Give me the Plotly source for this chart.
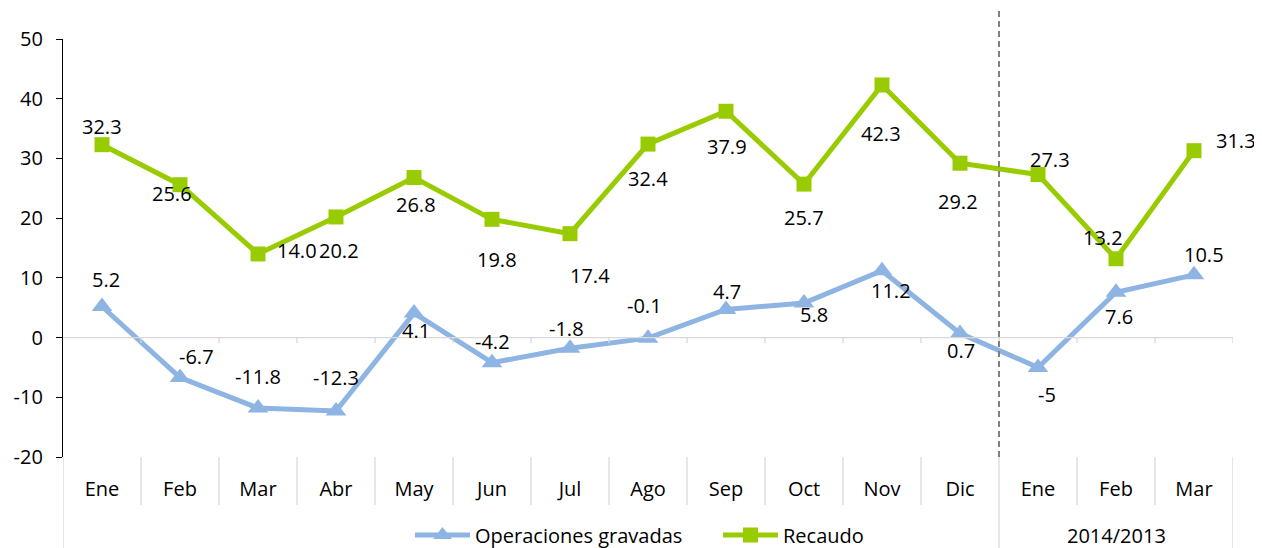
import plotly.graph_objects as go

months = ["Ene", "Feb", "Mar", "Abr", "May", "Jun", "Jul", "Ago", "Sep", "Oct", "Nov", "Dic", "Ene", "Feb", "Mar"]
group_label = "2014/2013"
group_start = 12  # index where the 2014/2013 group begins
operaciones = [5.2, -6.7, -11.8, -12.3, 4.1, -4.2, -1.8, -0.1, 4.7, 5.8, 11.2, 0.7, -5, 7.6, 10.5]
recaudo = [32.3, 25.6, 14.0, 20.2, 26.8, 19.8, 17.4, 32.4, 37.9, 25.7, 42.3, 29.2, 27.3, 13.2, 31.3]
y_ticks = [-20, -10, 0, 10, 20, 30, 40, 50]

# label offsets in pixels (x, y) for data labels
rec_off = [(0, 18), (-8, -9), (39, 3), (3, -34), (2, -27), (5, -40), (20, -42), (0, -34), (1, -35),
           (0, -33), (-1, -49), (-2, -38), (12, 15), (-13, 21), (42, 10)]
op_off = [(4, 27), (16, 21), (0, 32), (0, 34), (2, -17), (0, 21), (-4, 20), (-4, 33), (1, 18),
          (10, -12), (9, -20), (1, -17), (9, -27), (3, -24), (10, 20)]

FONT = "Open Sans"
FS = 20
BLUE = "#8EB4E3"
GREEN = "#99CC00"
xs = list(range(len(months)))
n = len(months)

# page has an 8px body margin; figure is sized to fit the 1262x548 window
W, H = 1254, 540
L, T, R, B = 55, 31, 29, 91
plot_h = H - T - B

fig = go.Figure()
fig.add_trace(go.Scatter(x=xs, y=operaciones, name="Operaciones gravadas", mode="lines+markers",
                         line=dict(color=BLUE, width=5),
                         marker=dict(symbol="triangle-up", size=18, color=BLUE)))
fig.add_trace(go.Scatter(x=xs, y=recaudo, name="Recaudo", mode="lines+markers",
                         line=dict(color=GREEN, width=5),
                         marker=dict(symbol="square", size=15, color=GREEN)))

ann = []
for i, v in enumerate(operaciones):
    ann.append(dict(x=xs[i], y=v, xref="x", yref="y", text=f"{v:g}", showarrow=False,
                    xshift=op_off[i][0], yshift=op_off[i][1],
                    font=dict(family=FONT, size=FS, color="black")))
for i, v in enumerate(recaudo):
    ann.append(dict(x=xs[i], y=v, xref="x", yref="y", text=f"{v:.1f}", showarrow=False,
                    xshift=rec_off[i][0], yshift=rec_off[i][1],
                    font=dict(family=FONT, size=FS, color="black")))

ann.append(dict(x=(group_start + n - 1) / 2, y=-78 / plot_h, xref="x", yref="paper", text=group_label,
                showarrow=False, font=dict(family=FONT, size=FS, color="black"), yanchor="middle"))

shapes = []
# zero line with small ticks
shapes.append(dict(type="line", xref="x", yref="y", x0=-0.5, x1=n - 0.5, y0=0, y1=0,
                   line=dict(color="#D9D9D9", width=1.3)))
for i in range(n):
    shapes.append(dict(type="line", xref="x", yref="y", x0=i + 0.5, x1=i + 0.5, y0=0, y1=-0.9,
                       line=dict(color="#D9D9D9", width=1.3)))
# category separators in label area
for i in range(n + 1):
    b = i - 0.5
    long = (i == 0 or i == n or i == group_start)
    shapes.append(dict(type="line", xref="x", yref="paper", x0=b, x1=b, y0=0,
                       y1=-(B + 2) / plot_h if long else -48 / plot_h,
                       line=dict(color="#D9D9D9", width=1.3)))
# dashed divider
shapes.append(dict(type="line", xref="x", yref="paper", x0=group_start - 0.5, x1=group_start - 0.5,
                   y0=0, y1=1 + 29 / plot_h, line=dict(color="#808080", width=2, dash="6px,4px")))

fig.update_layout(
    width=W, height=H,
    margin=dict(l=L, r=R, t=T, b=B, autoexpand=False),
    paper_bgcolor="white", plot_bgcolor="white",
    font=dict(family=FONT, size=FS, color="black"),
    showlegend=True,
    legend=dict(orientation="h", xref="container", yref="container", x=402 / W, xanchor="left",
                y=1 - 527 / H, yanchor="middle",
                font=dict(family=FONT, size=FS, color="black"), itemwidth=55,
                entrywidth=238, entrywidthmode="pixels",
                bgcolor="rgba(0,0,0,0)", tracegroupgap=0),
    annotations=ann,
    shapes=shapes,
    xaxis=dict(range=[-0.5, n - 0.5], tickmode="array", tickvals=xs, ticktext=months,
               showgrid=False, zeroline=False, showline=False, ticks="outside", ticklen=14,
               tickcolor="rgba(0,0,0,0)", tickfont=dict(family=FONT, size=FS, color="black"),
               fixedrange=True, automargin=False),
    yaxis=dict(range=[-20, 50], tickmode="array", tickvals=y_ticks,
               ticktext=[str(t) for t in y_ticks], showgrid=False, zeroline=False,
               showline=True, linecolor="black", linewidth=1.3, ticks="outside", ticklen=6,
               tickcolor="black", tickfont=dict(family=FONT, size=FS, color="black"),
               ticklabelstandoff=9, fixedrange=True, automargin=False),
)

fig.write_html("out.html")
